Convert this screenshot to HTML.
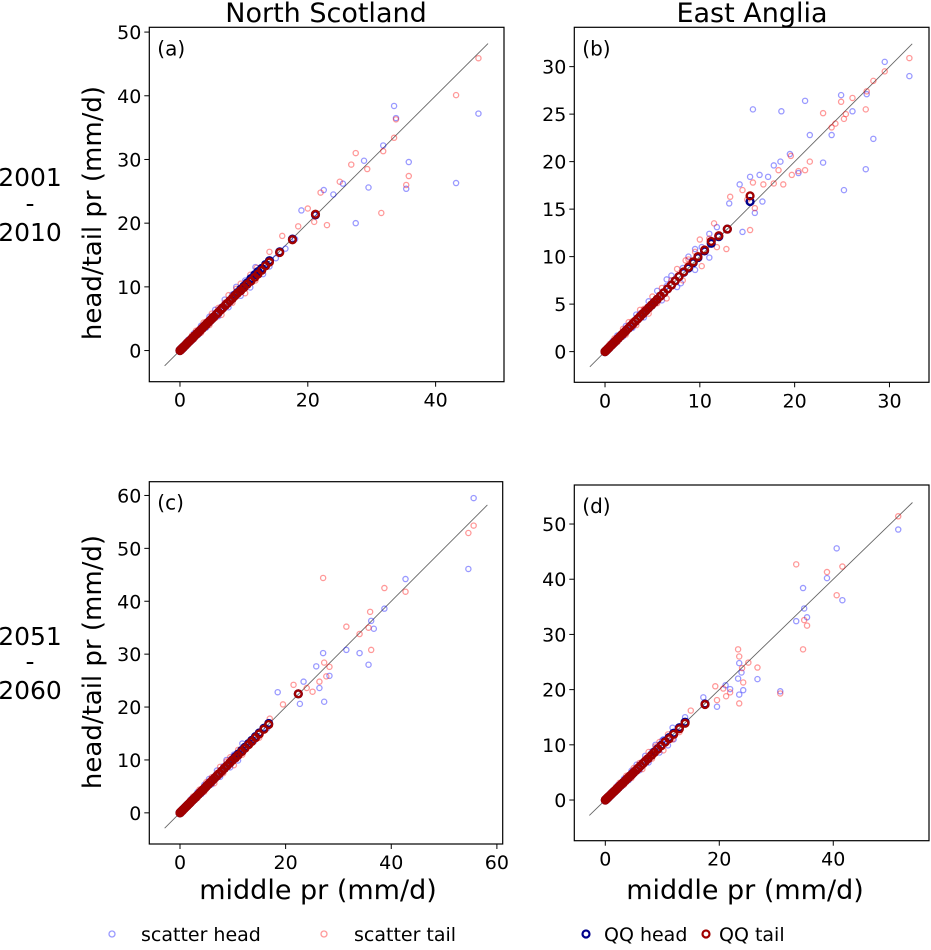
<!DOCTYPE html>
<html><head><meta charset="utf-8">
<style>
body{margin:0;background:#fff;}
svg text{font-family:"DejaVu Sans","Liberation Sans",sans-serif;fill:#000;}
</style></head>
<body>
<svg id="fig" width="931" height="945" viewBox="0 0 931 945" xmlns="http://www.w3.org/2000/svg">
<text x="326" y="22" font-size="27" text-anchor="middle">North Scotland</text>
<text x="752" y="22" font-size="27" text-anchor="middle">East Anglia</text>
<g font-size="25" text-anchor="middle">
<text x="30" y="186">2001</text><text x="30" y="212">-</text><text x="30" y="241">2010</text></g>
<g font-size="25" text-anchor="middle">
<text x="30" y="645">2051</text><text x="30" y="670">-</text><text x="30" y="699">2060</text></g>
<text transform="translate(101,213) rotate(-90)" font-size="26" text-anchor="middle">head/tail pr (mm/d)</text>
<text transform="translate(101,662) rotate(-90)" font-size="26" text-anchor="middle">head/tail pr (mm/d)</text>
<text x="318" y="899" font-size="27" text-anchor="middle">middle pr (mm/d)</text>
<text x="745" y="899" font-size="27" text-anchor="middle">middle pr (mm/d)</text>
<g font-size="19">
<g><circle cx="112" cy="934" r="3" fill="none" stroke="#0000ff" stroke-opacity="0.4" stroke-width="1.3"/><text x="141" y="941">scatter head</text></g>
<g><circle cx="324" cy="934" r="3" fill="none" stroke="#ff0000" stroke-opacity="0.4" stroke-width="1.3"/><text x="354" y="941">scatter tail</text></g>
<g><circle cx="586" cy="934" r="3.5" fill="none" stroke="#00008b" stroke-width="2.2"/><text x="604" y="941">QQ head</text></g>
<g><circle cx="706" cy="934" r="3.5" fill="none" stroke="#a00000" stroke-width="2.2"/><text x="719" y="941">QQ tail</text></g>
</g>
</svg>
<script>
// ---- data (middle pr, head/tail pr in mm/d) ----
const lowMid  = [0.1,0.3,0.5,0.8,1.0,1.3,1.6,1.9,2.2,2.5,2.9,3.3,3.7,4.1,4.6,5.0,5.5,6.0,6.5,7.0,7.6,8.2,8.8,9.5,10.2,11.0,11.8];
const lowDevH = [0.1,0.2,-0.1,0.3,-0.2,0.4,0.1,-0.3,0.5,0.2,-0.4,0.6,0.3,-0.5,0.7,-0.2,0.9,-0.6,0.4,1.0,-0.8,0.6,1.2,-0.9,0.8,-1.1,1.3];
const lowDevT = [-0.1,0.1,0.3,-0.2,0.4,-0.3,0.2,0.5,-0.4,0.6,0.3,-0.5,0.7,0.4,-0.6,0.8,-0.4,0.7,-0.9,0.5,1.1,-0.7,0.9,1.0,-1.2,0.9,-0.8];

const headA = [[46.7,37.2],[33.5,38.4],[33.8,36.5],[31.8,32.2],[35.8,29.6],[35.4,25.4],[43.2,26.3],[27.5,20.0],[29.5,25.6],[28.8,29.8],[22.5,25.2],[24.0,24.5],[19.0,22.0],[18.0,17.5],[15.0,14.5],[13.0,12.0],[25.5,26.2],[21.0,21.5],[16.5,16.0],[14.0,13.2]];
const tailA = [[46.7,45.9],[43.2,40.1],[33.8,36.3],[33.5,33.4],[31.8,31.3],[35.8,27.4],[35.4,26.0],[31.5,21.6],[26.8,29.2],[29.3,28.5],[22.0,24.8],[25.0,26.5],[20.0,22.3],[23.0,19.7],[21.0,20.2],[16.0,18.0],[14.0,15.5],[12.0,13.0],[27.5,31.0],[18.5,19.5]];
const qqMidA  = [0.0,0.1,0.2,0.3,0.4,0.5,0.6,0.8,1.0,1.2,1.4,1.6,1.8,2.0,2.3,2.6,2.9,3.2,3.5,3.8,4.1,4.4,4.7,5.0,5.3,5.7,6.0,6.4,6.7,7.1,7.4,7.8,8.2,8.6,9.0,9.5,10.0,10.5,11.1,11.7,12.2,12.8,13.4,14.0,15.6,17.6,21.2];
const qqHeadA = [0.0,0.1,0.2,0.3,0.4,0.5,0.6,0.8,1.0,1.2,1.4,1.6,1.8,2.0,2.3,2.6,2.9,3.2,3.5,3.8,4.1,4.4,4.7,5.0,5.3,5.7,6.0,6.4,6.7,7.1,7.4,7.8,8.2,8.7,9.1,9.6,10.1,10.6,11.3,11.9,12.4,12.9,13.5,14.1,15.5,17.5,21.3];
const qqTailA = [0.0,0.1,0.2,0.3,0.4,0.5,0.6,0.8,1.0,1.2,1.4,1.6,1.8,2.0,2.3,2.6,2.9,3.2,3.5,3.8,4.1,4.4,4.7,5.0,5.3,5.7,6.0,6.4,6.7,7.1,7.4,7.8,8.2,8.6,9.0,9.4,9.9,10.4,10.9,11.5,12.0,12.6,13.3,13.9,15.4,17.4,21.4];

const headB = [[29.5,30.5],[32.1,29.0],[24.9,27.0],[21.1,26.4],[15.6,25.5],[18.6,25.3],[26.1,25.3],[27.6,27.1],[21.6,22.8],[23.9,22.8],[28.3,22.4],[23.0,19.9],[27.5,19.2],[25.2,17.0],[19.5,20.8],[18.5,20.0],[17.8,19.6],[16.3,18.6],[17.2,18.4],[20.4,18.8],[15.3,18.4],[14.2,17.6],[16.6,15.8],[15.8,14.6],[14.5,12.6],[13.1,15.6],[11.0,12.4],[9.5,10.8],[8.0,7.2],[6.5,7.6]];
const tailB = [[32.1,30.9],[29.5,29.5],[28.3,28.5],[27.6,27.4],[24.9,26.3],[26.1,26.7],[27.5,25.5],[23.0,25.1],[25.4,25.0],[25.2,24.5],[24.3,24.0],[23.9,23.6],[21.6,20.0],[21.1,19.1],[19.6,20.6],[18.3,19.1],[20.4,19.0],[19.7,18.6],[18.8,17.6],[17.8,17.7],[16.7,17.6],[15.6,17.8],[14.5,17.0],[13.2,16.3],[15.3,12.8],[12.8,10.8],[15.0,16.0],[15.8,15.1],[11.5,13.5],[10.0,11.8],[8.5,9.6]];
const qqMidB  = [0.0,0.1,0.2,0.3,0.4,0.5,0.7,0.85,1.0,1.2,1.4,1.6,1.8,2.0,2.2,2.45,2.7,2.95,3.2,3.45,3.7,4.0,4.3,4.6,4.9,5.2,5.5,5.85,6.2,6.6,7.0,7.4,7.8,8.3,8.8,9.3,9.8,10.5,11.2,12.0,12.9,15.3];
const qqHeadB = [0.0,0.1,0.2,0.3,0.4,0.5,0.7,0.85,1.0,1.2,1.4,1.6,1.8,2.0,2.2,2.45,2.7,2.95,3.2,3.45,3.7,4.0,4.3,4.6,4.9,5.2,5.5,5.85,6.2,6.6,7.0,7.45,7.9,8.35,8.8,9.35,9.9,10.6,11.4,12.1,12.9,15.8];
const qqTailB = [0.0,0.1,0.2,0.3,0.4,0.5,0.7,0.85,1.0,1.2,1.4,1.6,1.8,2.0,2.2,2.45,2.7,2.95,3.2,3.45,3.7,4.0,4.3,4.6,4.9,5.2,5.5,5.85,6.2,6.6,7.0,7.45,7.9,8.4,8.9,9.45,10.0,10.7,11.6,12.2,12.9,16.4];

const headC = [[55.6,59.5],[54.6,46.1],[42.7,44.2],[38.7,38.6],[36.2,36.3],[36.7,34.8],[31.5,30.8],[34.0,30.2],[35.7,28.0],[27.1,30.2],[27.3,21.0],[28.3,25.9],[26.4,23.6],[25.8,27.7],[23.4,24.8],[22.7,20.6],[18.5,22.8],[16.5,16.0],[14.0,13.5],[12.0,11.5]];
const tailC = [[55.6,54.3],[54.6,52.9],[27.1,44.4],[38.7,42.5],[42.7,41.8],[36.0,38.0],[31.5,35.2],[35.7,35.0],[34.0,33.8],[36.2,30.8],[27.3,28.4],[28.3,27.6],[27.7,25.8],[26.4,24.8],[25.1,22.9],[21.5,24.2],[24.0,23.6],[19.5,20.5],[17.0,17.8],[15.0,14.2]];
const qqMidC  = [0.0,0.1,0.2,0.3,0.4,0.5,0.6,0.8,1.0,1.2,1.4,1.6,1.8,2.0,2.3,2.6,2.9,3.2,3.5,3.8,4.1,4.4,4.7,5.0,5.4,5.8,6.2,6.6,7.0,7.4,7.9,8.4,8.9,9.4,9.9,10.5,11.0,11.7,12.3,13.0,13.6,14.3,15.0,15.9,16.8,22.4];
const qqHeadC = [0.0,0.1,0.2,0.3,0.4,0.5,0.6,0.8,1.0,1.2,1.4,1.6,1.8,2.0,2.3,2.6,2.9,3.2,3.5,3.8,4.1,4.4,4.7,5.0,5.4,5.8,6.2,6.6,7.0,7.4,7.9,8.4,8.9,9.4,10.0,10.6,11.1,11.8,12.4,13.1,13.7,14.4,15.1,16.0,16.9,22.5];
const qqTailC = [0.0,0.1,0.2,0.3,0.4,0.5,0.6,0.8,1.0,1.2,1.4,1.6,1.8,2.0,2.3,2.6,2.9,3.2,3.5,3.8,4.1,4.4,4.7,5.0,5.4,5.8,6.2,6.6,7.0,7.4,7.9,8.4,8.9,9.4,9.9,10.4,10.9,11.6,12.2,12.9,13.5,14.2,14.9,15.8,16.7,22.5];

const headD = [[51.4,49.0],[40.6,45.6],[38.9,40.2],[41.6,36.2],[34.7,38.4],[34.9,34.7],[35.4,33.1],[33.5,32.4],[30.7,19.7],[26.7,21.9],[23.5,24.8],[23.9,23.1],[23.3,22.0],[24.2,19.9],[23.5,19.1],[21.1,20.8],[21.9,20.1],[17.2,18.6],[19.6,16.9],[14.0,15.0],[12.0,11.0],[10.0,10.8]];
const tailD = [[51.4,51.4],[41.6,42.3],[38.9,41.3],[33.5,42.7],[40.6,37.1],[34.9,32.6],[35.4,31.6],[34.7,27.3],[30.7,19.3],[23.3,27.3],[23.5,26.0],[25.1,24.9],[26.7,24.0],[24.0,23.9],[24.2,21.3],[23.5,17.5],[21.9,19.5],[19.3,20.6],[20.7,20.2],[21.2,18.8],[19.6,18.1],[15.0,16.2],[13.0,12.3]];
const qqMidD  = [0.0,0.1,0.2,0.3,0.4,0.5,0.6,0.8,1.0,1.2,1.4,1.6,1.8,2.0,2.3,2.6,2.9,3.2,3.5,3.8,4.1,4.4,4.7,5.0,5.4,5.8,6.2,6.6,7.0,7.5,8.1,8.6,9.2,9.8,10.5,11.2,12.0,13.0,14.0,17.5];
const qqHeadD = [0.0,0.1,0.2,0.3,0.4,0.5,0.6,0.8,1.0,1.2,1.4,1.6,1.8,2.0,2.3,2.6,2.9,3.2,3.5,3.8,4.1,4.4,4.7,5.0,5.4,5.8,6.2,6.6,7.0,7.5,8.1,8.7,9.3,9.9,10.6,11.3,12.1,13.1,14.1,17.4];
const qqTailD = [0.0,0.1,0.2,0.3,0.4,0.5,0.6,0.8,1.0,1.2,1.4,1.6,1.8,2.0,2.3,2.6,2.9,3.2,3.5,3.8,4.1,4.4,4.7,5.0,5.4,5.8,6.2,6.6,7.0,7.5,8.1,8.6,9.2,9.8,10.5,11.1,11.9,12.9,13.9,17.3];

const xTicksA = [0,20,40], yTicksA = [0,10,20,30,40,50];
const xTicksB = [0,10,20,30], yTicksB = [0,5,10,15,20,25,30];
const xTicksC = [0,20,40,60], yTicksC = [0,10,20,30,40,50,60];
const xTicksD = [0,20,40], yTicksD = [0,10,20,30,40,50];

// ---- drawing ----
const NS = "http://www.w3.org/2000/svg";
const svg = document.getElementById('fig');
function mk(tag, attrs, parent){
  const e = document.createElementNS(NS, tag);
  for (const k in attrs) e.setAttribute(k, attrs[k]);
  parent.appendChild(e);
  return e;
}
function panel(p){
  const g = mk('g', {}, svg);
  
  
  const sx = v => p.x0 + (v - p.xmin) / (p.xmax - p.xmin) * (p.x1 - p.x0);
  const sy = v => p.y1 - (v - p.ymin) / (p.ymax - p.ymin) * (p.y1 - p.y0);
  const d = mk('line', {x1:sx(p.dlo), y1:sy(p.dlo), x2:sx(p.dhi), y2:sy(p.dhi), stroke:'#000', 'stroke-opacity':0.6, 'stroke-width':0.9}, g);
  
  
  lowMid.forEach((m,i) => {
    const c = mk('circle', {cx:sx(m), cy:sy(m+lowDevH[i]), r:2.6, fill:'none', stroke:'#0000ff', 'stroke-opacity':0.4, 'stroke-width':1.3}, g);
    
    
  });
  p.head.forEach(pt => {
    const c = mk('circle', {cx:sx(pt[0]), cy:sy(pt[1]), r:2.6, fill:'none', stroke:'#0000ff', 'stroke-opacity':0.4, 'stroke-width':1.3}, g);
    
    
  });
  lowMid.forEach((m,i) => {
    const c = mk('circle', {cx:sx(m), cy:sy(m+lowDevT[i]), r:2.6, fill:'none', stroke:'#ff0000', 'stroke-opacity':0.4, 'stroke-width':1.3}, g);
    
    
  });
  p.tail.forEach(pt => {
    const c = mk('circle', {cx:sx(pt[0]), cy:sy(pt[1]), r:2.6, fill:'none', stroke:'#ff0000', 'stroke-opacity':0.4, 'stroke-width':1.3}, g);
    
    
  });
  p.qqMid.forEach((m,i) => {
    const c = mk('circle', {cx:sx(m), cy:sy(p.qqHead[i]), r:3.4, fill:'none', stroke:'#00008b', 'stroke-width':2.4}, g);
    
    
  });
  p.qqMid.forEach((m,i) => {
    const c = mk('circle', {cx:sx(m), cy:sy(p.qqTail[i]), r:3.4, fill:'none', stroke:'#a00000', 'stroke-width':2.4}, g);
    
    
  });
  const f = mk('rect', {x:p.x0, y:p.y0, width:p.x1-p.x0, height:p.y1-p.y0, fill:'none', stroke:'#000', 'stroke-width':1.2}, g);
  
  
  p.xt.forEach(t => {
    mk('line', {x1:sx(t), x2:sx(t), y1:p.y1, y2:p.y1+5, stroke:'#000', 'stroke-width':1}, g);
    const tx = mk('text', {x:sx(t), y:p.y1+25, 'font-size':19, 'text-anchor':'middle'}, g);
    tx.textContent = t;
    
    
  });
  p.yt.forEach(t => {
    mk('line', {x1:p.x0-5, x2:p.x0, y1:sy(t), y2:sy(t), stroke:'#000', 'stroke-width':1}, g);
    const tx = mk('text', {x:p.x0-8, y:sy(t)+7, 'font-size':19, 'text-anchor':'end'}, g);
    tx.textContent = t;
    
    
  });
  const lab = mk('text', {x:p.x0+8, y:p.y0+28, 'font-size':20}, g);
  lab.textContent = '(' + p.id + ')';
  
  
}
panel({id:'a', x0:149.3, x1:504, y0:27.3, y1:381.7, xmin:-4.8, xmax:50.7, ymin:-4.89, ymax:50.75, dlo:-2.4, dhi:48.2, xt:xTicksA, yt:yTicksA, head:headA, tail:tailA, qqMid:qqMidA, qqHead:qqHeadA, qqTail:qqTailA});
panel({id:'b', x0:574.3, x1:929, y0:27.3, y1:382.3, xmin:-3.24, xmax:34.17, ymin:-3.23, ymax:34.14, dlo:-1.6, dhi:32.4, xt:xTicksB, yt:yTicksB, head:headB, tail:tailB, qqMid:qqMidB, qqHead:qqHeadB, qqTail:qqTailB});
panel({id:'c', x0:149.3, x1:502.7, y0:481.7, y1:844, xmin:-5.81, xmax:61.1, ymin:-5.89, ymax:62.6, dlo:-2.9, dhi:58.2, xt:xTicksC, yt:yTicksC, head:headC, tail:tailC, qqMid:qqMidC, qqHead:qqHeadC, qqTail:qqTailC});
panel({id:'d', x0:574.3, x1:929, y0:485, y1:840.7, xmin:-5.44, xmax:56.8, ymin:-7.37, ymax:57.07, dlo:-2.8, dhi:53.9, xt:xTicksD, yt:yTicksD, head:headD, tail:tailD, qqMid:qqMidD, qqHead:qqHeadD, qqTail:qqTailD});
</script>
</body></html>
